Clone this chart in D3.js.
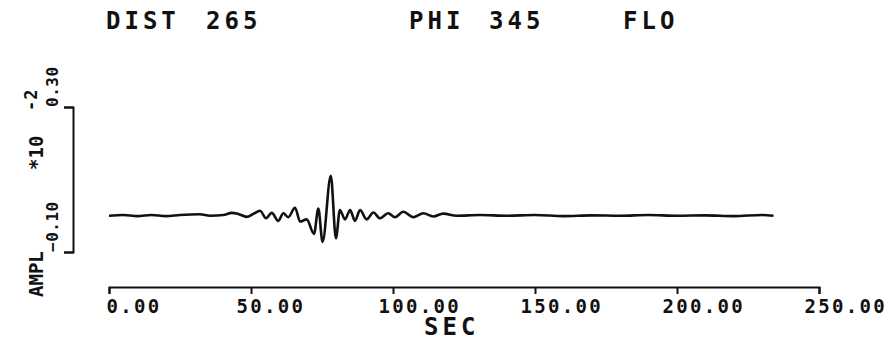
<!DOCTYPE html>
<html>
<head>
<meta charset="utf-8">
<script src="https://cdn.jsdelivr.net/npm/d3@7"></script>
<style>
  html, body { margin: 0; padding: 0; background: #fff; }
  svg text { font-family: "DejaVu Sans Mono", monospace; font-weight: bold; fill: #111; }
</style>
</head>
<body>
<div id="plot"></div>
<script>
// header words and their left edges
var titleWords = ["DIST", "265", "PHI", "345", "FLO"];
var titleX = [106, 206, 409, 489, 623];

// trace samples: time (s) and amplitude (x10^-2)
var sec = [0, 5, 10, 15, 20, 25.0, 32.0, 35.6, 40.3, 43.2, 45.5, 48.5, 50.8, 53.2, 55.3,
    57.3, 59.6, 61.4, 63.1, 65.5, 67.3, 69.6, 72.2, 73.7, 75.2, 78.1, 79.9, 81.3,
    83.1, 84.9, 86.6, 88.4, 90.7, 93.1, 95.4, 98.3, 100.7, 103.6, 107.2, 110.7,
    114.2, 117.7, 122.4, 130.6, 140, 150, 160, 170, 180, 190, 200, 210, 220, 230, 234];
var ampl = [0, 0.002, -0.001, 0.002, -0.001, 0.002, 0.004, 0, 0.002, 0.008, 0.005, -0.003, 0.005, 0.014, -0.007,
    0.008, -0.014, 0.007, -0.004, 0.022, -0.016, -0.010, -0.050, 0.020, -0.072, 0.110, -0.062, 0.016,
    -0.010, 0.016, -0.014, 0.016, -0.010, 0.009, -0.007, 0.007, -0.004, 0.011, -0.004, 0.007,
    -0.002, 0.006, 0, 0.002, 0, 0.002, -0.001, 0.001, 0, 0.002, 0, 0.001, -0.001, 0.002, 0];

var xTicks = [0, 50, 100, 150, 200, 250];
var yTicks = [-0.10, 0.30];

var svgWidth = 894;
var svgHeight = 354;

var svg = d3.select("#plot").append("svg")
    .attr("width", svgWidth)
    .attr("height", svgHeight);

var x = d3.scaleLinear().domain([0, 250]).range([109, 819]);
var y = d3.scaleLinear().domain([-0.10, 0.30]).range([252, 107]);

// header
svg.selectAll(".title")
    .data(titleWords)
    .enter()
    .append("text")
    .attr("class", "title")
    .attr("x", (d, i) => titleX[i])
    .attr("y", 29)
    .attr("font-size", "24px")
    .attr("letter-spacing", "4px")
    .text(d => d);

// x axis, ticks hang below the line
var xAxis = svg.append("g")
    .attr("transform", "translate(0, 287)")
    .call(d3.axisBottom(x).tickValues(xTicks).tickSize(7).tickSizeOuter(7)
        .tickFormat(d3.format(".2f")));

xAxis.select(".domain").attr("stroke", "#111").attr("stroke-width", 2);
xAxis.selectAll(".tick line").attr("stroke", "#111").attr("stroke-width", 2);
xAxis.selectAll(".tick text")
    .attr("text-anchor", "start")
    .attr("x", d => d == 0 ? -3 : -15)
    .attr("y", 8)
    .attr("dy", "0.95em")
    .attr("font-size", "19px")
    .attr("letter-spacing", "2.3px")
    .attr("fill", "#111")
    .style("font-family", "DejaVu Sans Mono")
    .style("font-weight", "bold");

svg.append("text")
    .attr("x", 424)
    .attr("y", 335)
    .attr("font-size", "24px")
    .attr("letter-spacing", "4px")
    .text("SEC");

// y axis bracket
var yAxis = svg.append("g")
    .attr("transform", "translate(73, 0)")
    .call(d3.axisLeft(y).tickValues(yTicks).tickSize(9).tickSizeOuter(9).tickFormat(""));

yAxis.select(".domain").attr("stroke", "#111").attr("stroke-width", 2);
yAxis.selectAll(".tick line").attr("stroke", "#111").attr("stroke-width", 2);

// tick values written upward from their ticks
svg.selectAll(".ylab")
    .data(yTicks)
    .enter()
    .append("text")
    .attr("class", "ylab")
    .attr("transform", d => `translate(58, ${y(d)}) rotate(-90)`)
    .attr("font-size", "16px")
    .attr("letter-spacing", "0.5px")
    .text(d => d3.format(".2f")(d));

svg.append("text")
    .attr("transform", "translate(43, 297) rotate(-90)")
    .attr("font-size", "19px")
    .text("AMPL");

svg.append("text")
    .attr("transform", "translate(43, 170) rotate(-90)")
    .attr("font-size", "19px")
    .text("*10");

svg.append("text")
    .attr("transform", "translate(37, 111) rotate(-90)")
    .attr("font-size", "17px")
    .attr("letter-spacing", "1px")
    .text("-2");

// trace
var line = d3.line()
    .x((d, i) => x(sec[i]))
    .y(d => y(d))
    .curve(d3.curveMonotoneX);

svg.append("path")
    .datum(ampl)
    .attr("fill", "none")
    .attr("stroke", "#111")
    .attr("stroke-width", 2.6)
    .attr("stroke-linejoin", "round")
    .attr("d", line);
</script>
</body>
</html>
